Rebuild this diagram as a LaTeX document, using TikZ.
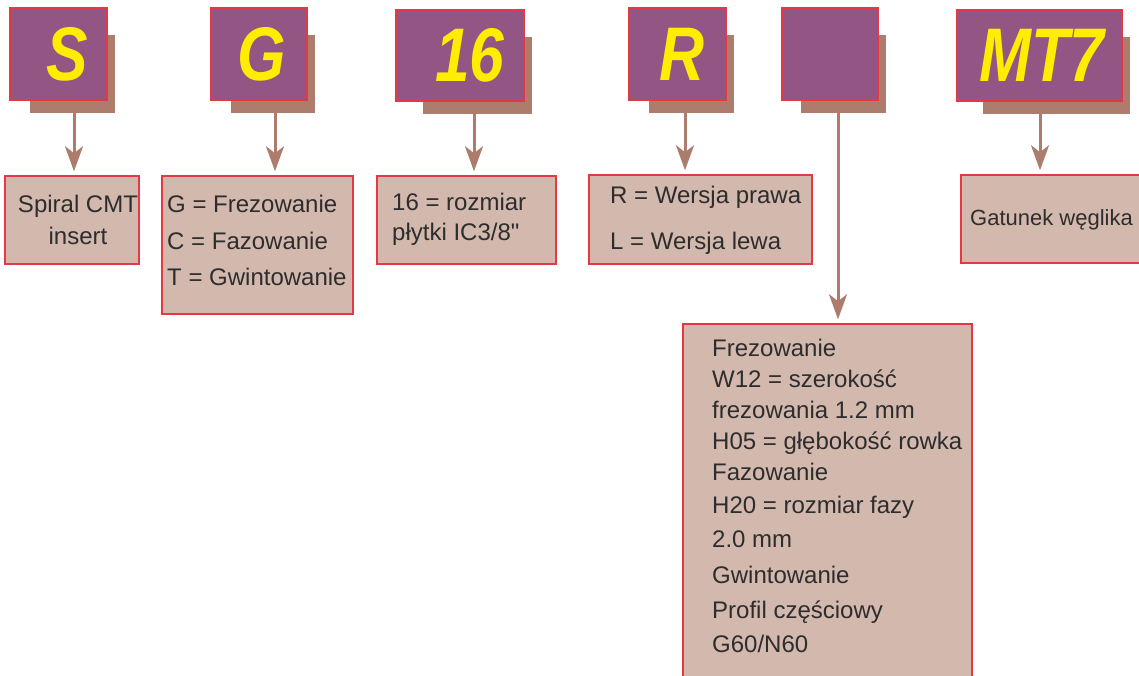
\documentclass[tikz,border=0pt]{standalone}
\usepackage{fontspec}
\setmainfont{Liberation Sans}[Ligatures=TeXOff]
\newfontfamily\codefont[FakeStretch=0.82]{Liberation Sans}
\usetikzlibrary{arrows.meta,backgrounds,calc}
\definecolor{cpurple}{RGB}{146,85,132}
\definecolor{cbrown}{RGB}{173,124,108}
\definecolor{cedge}{RGB}{229,56,68}
\definecolor{cdesc}{RGB}{211,184,174}
\definecolor{cyell}{RGB}{255,237,0}
\definecolor{ctext}{RGB}{45,45,45}
\tikzset{
  code/.style={rectangle,draw=cedge,line width=1.5pt,fill=cpurple,inner sep=0pt,
               text=cyell,font=\codefont\bfseries\itshape\fontsize{76}{76}\selectfont},
  desc/.style={rectangle,draw=cedge,line width=1.5pt,fill=cdesc,inner sep=0pt},
  txt/.style={inner sep=0pt,text=ctext,align=left,anchor=north west},
  backing/.style={fill=cbrown},
  link/.style={cbrown,line width=3pt,shorten >=4pt,
               -{Stealth[length=25pt,width=18pt,inset=7pt]}},
}

\begin{document}
\begin{tikzpicture}[x=1pt,y=-1pt]
  \useasboundingbox (0,0) rectangle (1139,675);
  % code letters
  \node[code,minimum width=97pt,minimum height=92pt]  (codeS)  at (58.5,54)   {\hspace*{17pt}S};
  \node[code,minimum width=96pt,minimum height=92pt]  (codeG)  at (259,54)    {\hspace*{6pt}G};
  \node[code,minimum width=128pt,minimum height=91pt] (code16) at (460,55.5)  {\hspace*{20pt}16};
  \node[code,minimum width=97pt,minimum height=92pt]  (codeR)  at (677.5,54)  {\hspace*{9pt}R};
  \node[code,minimum width=96pt,minimum height=92pt]  (codeX)  at (830,54)    {};
  \node[code,minimum width=165pt,minimum height=91pt] (codeMT) at (1039.5,55.5) {\hspace*{5pt}MT7};
  % shadows behind the letters
  \begin{scope}[on background layer]
    \fill[white] (0,0) rectangle (1139,675);
    \foreach \n/\dl in {S/21,G/21,16/28,R/21,X/20,MT/27}
      \fill[backing] ([shift={(\dl,28)}]code\n.north west) rectangle ([shift={(7,12)}]code\n.south east);
  \end{scope}
  % description boxes
  \node[desc,minimum width=134pt,minimum height=88pt]  (descS)  at (72,220)    {};
  \node[desc,minimum width=191pt,minimum height=138pt] (descG)  at (257.5,245) {};
  \node[desc,minimum width=179pt,minimum height=88pt]  (desc16) at (466.5,220) {};
  \node[desc,minimum width=223pt,minimum height=89pt]  (descR)  at (700.5,219.5) {};
  \node[desc,minimum width=190pt,minimum height=88pt]  (descMT) at (1056,219)  {};
  \node[desc,minimum width=289pt,minimum height=360pt] (descX)  at (827.5,504) {};
  % texts
  \node[txt,anchor=north,align=center,font=\fontsize{24}{32}\selectfont] (tS) at (78,195)
    {Spiral CMT\\insert};
  \node[txt,font=\fontsize{24}{36.5}\selectfont] (tG) at (167,195)
    {G = Frezowanie\\C = Fazowanie\\T = Gwintowanie};
  \node[txt,font=\fontsize{24}{30}\selectfont] (t16) at (392,193)
    {16 = rozmiar\\płytki IC3/8"};
  \node[txt,font=\fontsize{24}{46}\selectfont] (tR) at (610,186)
    {R = Wersja prawa\\L = Wersja lewa};
  \node[txt,font=\fontsize{22}{30}\selectfont] (tMT) at (970,209)
    {Gatunek węglika};
  \node[txt,font=\fontsize{24}{31}\selectfont] (tX) at (712,339)
    {Frezowanie\\
     W12 = szerokość\\
     frezowania 1.2 mm\\
     H05 = głębokość rowka\\
     Fazowanie\\[2pt]
     H20 = rozmiar fazy\\[3pt]
     2.0 mm\\[5pt]
     Gwintowanie\\[4pt]
     Profil częściowy\\[3pt]
     G60/N60};
  % arrows from each letter down to its meaning
  \foreach \n/\dx in {S/15.5,G/16,16/14,R/7.5,X/8,MT/0.5}
    \draw[link] ([xshift=\dx pt,yshift=-12pt]code\n.south) -- ([xshift=\dx pt]code\n.south |- desc\n.north);
\end{tikzpicture}
\end{document}
